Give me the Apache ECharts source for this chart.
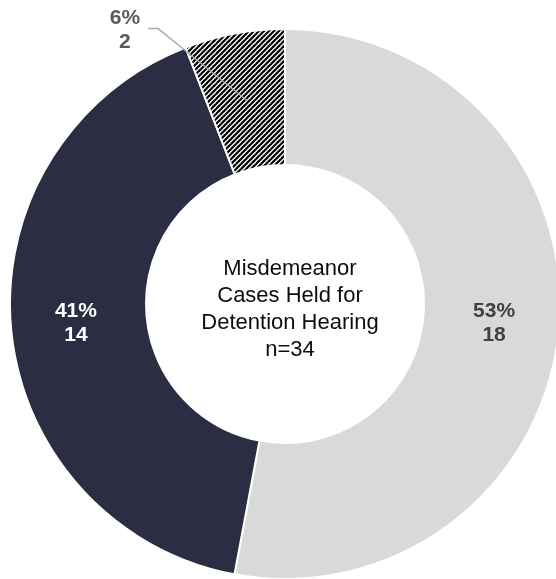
<!DOCTYPE html>
<html>
<head>
<meta charset="utf-8">
<script src="https://cdn.jsdelivr.net/npm/echarts@6/dist/echarts.min.js"></script>
<style>
    html, body{ margin: 0; padding: 0; background: #fff;}
    #chart1{ width: 556px; height: 579px;}
</style>
</head>
<body>
<div id="chart1"></div>
<script>
    // slices, clockwise from 12 o'clock
    const categories = ['Group A', 'Group B', 'Group C'];
    const counts = [18, 14, 2];
    const centerLines = ['Misdemeanor', 'Cases Held for', 'Detention Hearing', 'n=34'];

    // black / white diagonal hatch for the small slice
    const tile = document.createElement('canvas');
    tile.width = 5; tile.height = 5;
    const ctx = tile.getContext('2d');
    ctx.fillStyle = '#fff';
    ctx.fillRect(0, 0, 5, 5);
    ctx.strokeStyle = '#000';
    ctx.lineWidth = 2.2;
    [0, 5, 10].forEach(function (k) {
        ctx.beginPath();
        ctx.moveTo(-1, k + 1);
        ctx.lineTo(k + 1, -1);
        ctx.stroke();
    });

    const fills = ['#D9D9D9', '#2B2D42', {image: tile, repeat: 'repeat'}];
    const labelColors = ['#404040', '#ffffff', '#595959'];

    const chart = echarts.init(document.getElementById('chart1'));
    chart.setOption({
        animation: false,
        title: {
            text: centerLines.join('\n'),
            left: 285,
            top: 304,
            textAlign: 'center',
            textVerticalAlign: 'middle',
            textStyle: {fontFamily: 'Liberation Sans', fontSize: 22, fontWeight: 'normal', color: '#0d0d0d', lineHeight: 27}
        },
        series: [{
            type: 'pie',
            center: [285, 304],
            radius: [139, 275],
            startAngle: 90,
            clockwise: true,
            percentPrecision: 0,
            silent: true,
            emphasis: {disabled: true},
            itemStyle: {borderColor: '#fff', borderWidth: 2},
            label: {
                position: 'inside',
                formatter: '{d}%\n{c}',
                fontFamily: 'Liberation Sans',
                fontSize: 21,
                fontWeight: 'bold',
                lineHeight: 24
            },
            data: counts.map(function (v, i) {
                return {
                    name: categories[i], value: v,
                    itemStyle: {color: fills[i]},
                    label: {show: i < 2, color: labelColors[i]}
                };
            })
        }, {
            // invisible ring at mid radius, used only to anchor the small slice's leader line
            type: 'pie',
            center: [285, 304],
            radius: [0, 207],
            startAngle: 90,
            clockwise: true,
            percentPrecision: 0,
            silent: true,
            z: 3,
            emphasis: {disabled: true},
            avoidLabelOverlap: false,
            itemStyle: {color: 'transparent', borderWidth: 0},
            label: {
                position: 'outside',
                formatter: '{d}%\n{c}',
                fontFamily: 'Liberation Sans',
                fontSize: 21,
                fontWeight: 'bold',
                lineHeight: 24,
                color: '#595959'
            },
            labelLine: {show: true, length: 10, length2: 10, lineStyle: {color: '#A6A6A6', width: 1.5}},
            labelLayout: function (params) {
                if (params.dataIndex !== 2 || !params.labelLinePoints) return {};
                const p = params.labelLinePoints[0];
                const elbow = [p[0] - 89, p[1] - 72];
                const end = [elbow[0] - 10, elbow[1]];
                return {
                    x: end[0] - 23, y: end[1] + 2,
                    align: 'center', verticalAlign: 'middle',
                    labelLinePoints: [p, elbow, end]
                };
            },
            data: counts.map(function (v, i) {
                return {
                    name: categories[i], value: v,
                    label: {show: i === 2},
                    labelLine: {show: i === 2}
                };
            })
        }]
    });
</script>
</body>
</html>
